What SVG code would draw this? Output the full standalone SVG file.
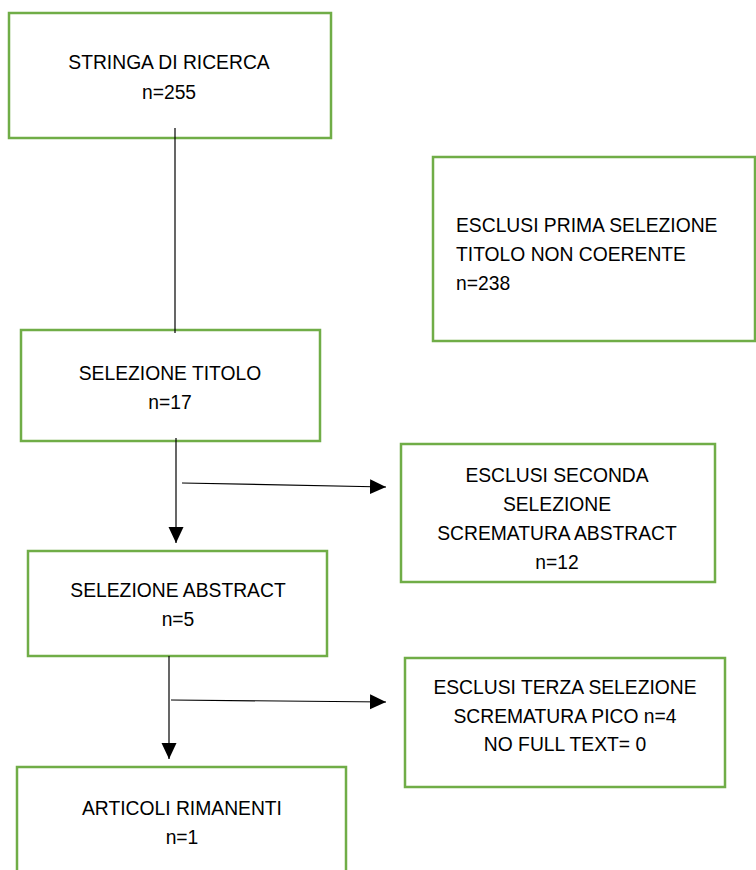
<svg xmlns="http://www.w3.org/2000/svg" width="756" height="870" viewBox="0 0 756 870">
<style>
.box{fill:#fff;stroke:#70AD47;stroke-width:2.5}
.t{font-family:"Liberation Sans",Arial,sans-serif;font-size:19.3px;fill:#000}
.c{text-anchor:middle}
.ln{stroke:#000;stroke-width:1.2;fill:none}
</style>
<defs>
<marker id="ah" markerUnits="userSpaceOnUse" markerWidth="17" markerHeight="16" refX="16" refY="7.5" orient="auto">
<path d="M0,0 L16,7.5 L0,15 Z" fill="#000"/>
</marker>
</defs>
<rect width="756" height="870" fill="#fff"/>
<g id="n1">
<rect class="box" x="9" y="13" width="322" height="125"/>
<text class="t c" x="169" y="69">STRINGA DI RICERCA</text>
<text class="t c" x="169" y="99">n=255</text>
</g>
<g id="n2">
<rect class="box" x="433" y="157" width="322" height="184"/>
<text class="t" x="456" y="232">ESCLUSI PRIMA SELEZIONE</text>
<text class="t" x="456" y="261">TITOLO NON COERENTE</text>
<text class="t" x="456" y="290">n=238</text>
</g>
<g id="n3">
<rect class="box" x="21" y="330" width="299" height="111"/>
<text class="t c" x="170" y="380">SELEZIONE TITOLO</text>
<text class="t c" x="170" y="409">n=17</text>
</g>
<g id="n4">
<rect class="box" x="401" y="444" width="314" height="138"/>
<text class="t c" x="557" y="482">ESCLUSI SECONDA</text>
<text class="t c" x="557" y="511">SELEZIONE</text>
<text class="t c" x="557" y="540">SCREMATURA ABSTRACT</text>
<text class="t c" x="557" y="569">n=12</text>
</g>
<g id="n5">
<rect class="box" x="28" y="551" width="299" height="105"/>
<text class="t c" x="178" y="597">SELEZIONE ABSTRACT</text>
<text class="t c" x="178" y="626">n=5</text>
</g>
<g id="n6">
<rect class="box" x="405" y="658" width="320" height="129"/>
<text class="t c" x="565" y="694">ESCLUSI TERZA SELEZIONE</text>
<text class="t c" x="565" y="723">SCREMATURA PICO n=4</text>
<text class="t c" x="565" y="751">NO FULL TEXT= 0</text>
</g>
<g id="n7">
<rect class="box" x="17" y="767" width="329" height="110"/>
<text class="t c" x="182" y="815">ARTICOLI RIMANENTI</text>
<text class="t c" x="182" y="844">n=1</text>
</g>
<g id="connectors">
<line class="ln" x1="175" y1="128" x2="175" y2="333"/>
<line class="ln" x1="176" y1="438" x2="176" y2="543" marker-end="url(#ah)"/>
<line class="ln" x1="182" y1="483" x2="386" y2="487" marker-end="url(#ah)"/>
<line class="ln" x1="169" y1="656" x2="169" y2="759" marker-end="url(#ah)"/>
<line class="ln" x1="171" y1="700" x2="386" y2="702" marker-end="url(#ah)"/>
</g>
</svg>
